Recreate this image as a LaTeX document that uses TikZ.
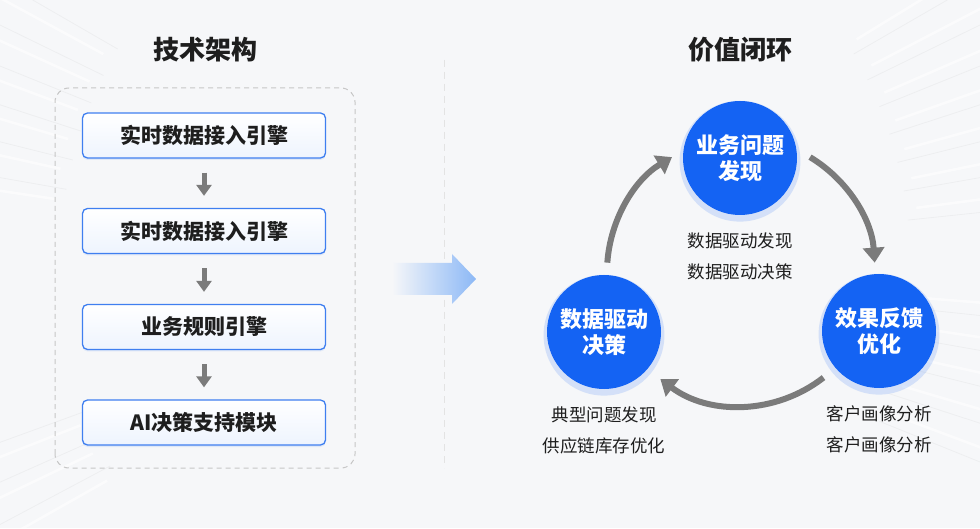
\documentclass[tikz,border=0pt]{standalone}
\usepackage{fontspec}
\setmainfont{Noto Sans CJK SC}
\usetikzlibrary{arrows.meta,shadows,calc,positioning}
\definecolor{bgc}{HTML}{F6F7F9}
\definecolor{blueC}{HTML}{1463F3}
\definecolor{boxline}{HTML}{3F7FF0}
\definecolor{boxfill}{HTML}{EEF4FE}
\definecolor{txt}{HTML}{1E1E1E}
\definecolor{garrow}{HTML}{7B7B7B}
\definecolor{lightblue}{HTML}{8CB8F6}
\tikzset{
  titletext/.style={font=\bfseries\fontsize{26}{30}\selectfont, text=txt},
  stepbox/.style={draw=boxline, line width=1.3pt, rounded corners=5pt,
    minimum width=243pt, minimum height=45pt, top color=white, bottom color=boxfill,
    font=\bfseries\fontsize{21}{25}\selectfont, text=txt,
    drop shadow={shadow xshift=0pt, shadow yshift=-2pt, opacity=0.12, fill=boxline}},
  downarr/.style={draw=garrow, line width=5pt, -{Triangle[length=11pt,width=15pt]}},
  circnode/.style={circle, fill=blueC, minimum size=114pt, inner sep=0pt, align=center,
    text=white, font=\bfseries\fontsize{22}{26}\selectfont,
    drop shadow={shadow scale=1.06, shadow xshift=0pt, shadow yshift=-3pt, opacity=0.15, fill=blueC}},
  looparr/.style={draw=garrow, line width=6pt, -{Triangle[length=15pt,width=21pt]}},
  labeltext/.style={align=center, text=txt, font=\fontsize{17.5}{31}\selectfont},
  streak/.style={line width=0.8pt, draw=gray, opacity=0.07}
}
\begin{document}
\begin{tikzpicture}[x=1pt,y=1pt]
\useasboundingbox (0,0) rectangle (980,528);
\fill[bgc] (0,0) rectangle (980,528);
% background streaks
\begin{scope}
\clip (0,0) rectangle (980,528);
\coordinate (O) at (490,264);
\foreach \a in {150,154,158,162,166,170,200,204,208}{
  \draw[streak] ($(O)+(\a:430)$) -- ($(O)+(\a:800)$);
  \draw[white, line width=2.5pt, opacity=0.6] ($(O)+(\a+1.5:440)$) -- ($(O)+(\a+1.5:800)$);
}
\foreach \a in {6,10,14,18,22,26,30,-6,-10,-14,-18,-22}{
  \draw[streak] ($(O)+(\a:420)$) -- ($(O)+(\a:800)$);
  \draw[white, line width=2.5pt, opacity=0.6] ($(O)+(\a+1.5:430)$) -- ($(O)+(\a+1.5:800)$);
}
\end{scope}
% titles
\node[titletext] (t1) at (205,478) {技术架构};
\node[titletext] (t2) at (740,478) {价值闭环};
% divider
\coordinate (d1) at (444,468);
\coordinate (d2) at (444,60);
\draw[gray!22, line width=1pt, dash pattern=on 7pt off 5pt] (d1) -- (d2);
% dashed container
\draw[gray!45, line width=1pt, dash pattern=on 5pt off 4pt, rounded corners=14pt] (55,60) rectangle (355,440);
% steps
\node[stepbox] (b1) at (204,392.5) {实时数据接入引擎};
\node[stepbox] (b2) at (204,297) {实时数据接入引擎};
\node[stepbox] (b3) at (204,201) {业务规则引擎};
\node[stepbox] (b4) at (204,105.5) {AI决策支持模块};
\draw[downarr, shorten <=14pt, shorten >=12pt] (b1.south) -- (b2.north);
\draw[downarr, shorten <=14pt, shorten >=12pt] (b2.south) -- (b3.north);
\draw[downarr, shorten <=14pt, shorten >=12pt] (b3.south) -- (b4.north);
% blue transition arrow
\shade[left color=bgc, right color=lightblue]
  (392,265) -- (452,265) -- (452,274) -- (476,249) -- (452,224) -- (452,233) -- (392,233) -- cycle;
% circles
\node[circnode] (c1) at (740,370) {业务问题\\发现};
\node[circnode] (c2) at (604,196) {数据驱动\\决策};
\node[circnode] (c3) at (879,197) {效果反馈\\优化};
% labels
\node[labeltext, below=14pt of c1.south] (l1) {数据驱动发现\\数据驱动决策};
\node[labeltext, below=14pt of c2.south] (l2) {典型问题发现\\供应链库存优化};
\node[labeltext, below=14pt of c3.south] (l3) {客户画像分析\\客户画像分析};
% loop arrows
\coordinate (C) at (741,256);
\draw[looparr] ($(C)+(176:134)$) arc[start angle=176, end angle=121, radius=134];
\draw[looparr] ($(C)+(59:134)$) arc[start angle=59, end angle=4, radius=134];
\draw[looparr] ($(C)+(-52:134)$) arc[start angle=-52, end angle=-127, radius=134];
\end{tikzpicture}
\end{document}
